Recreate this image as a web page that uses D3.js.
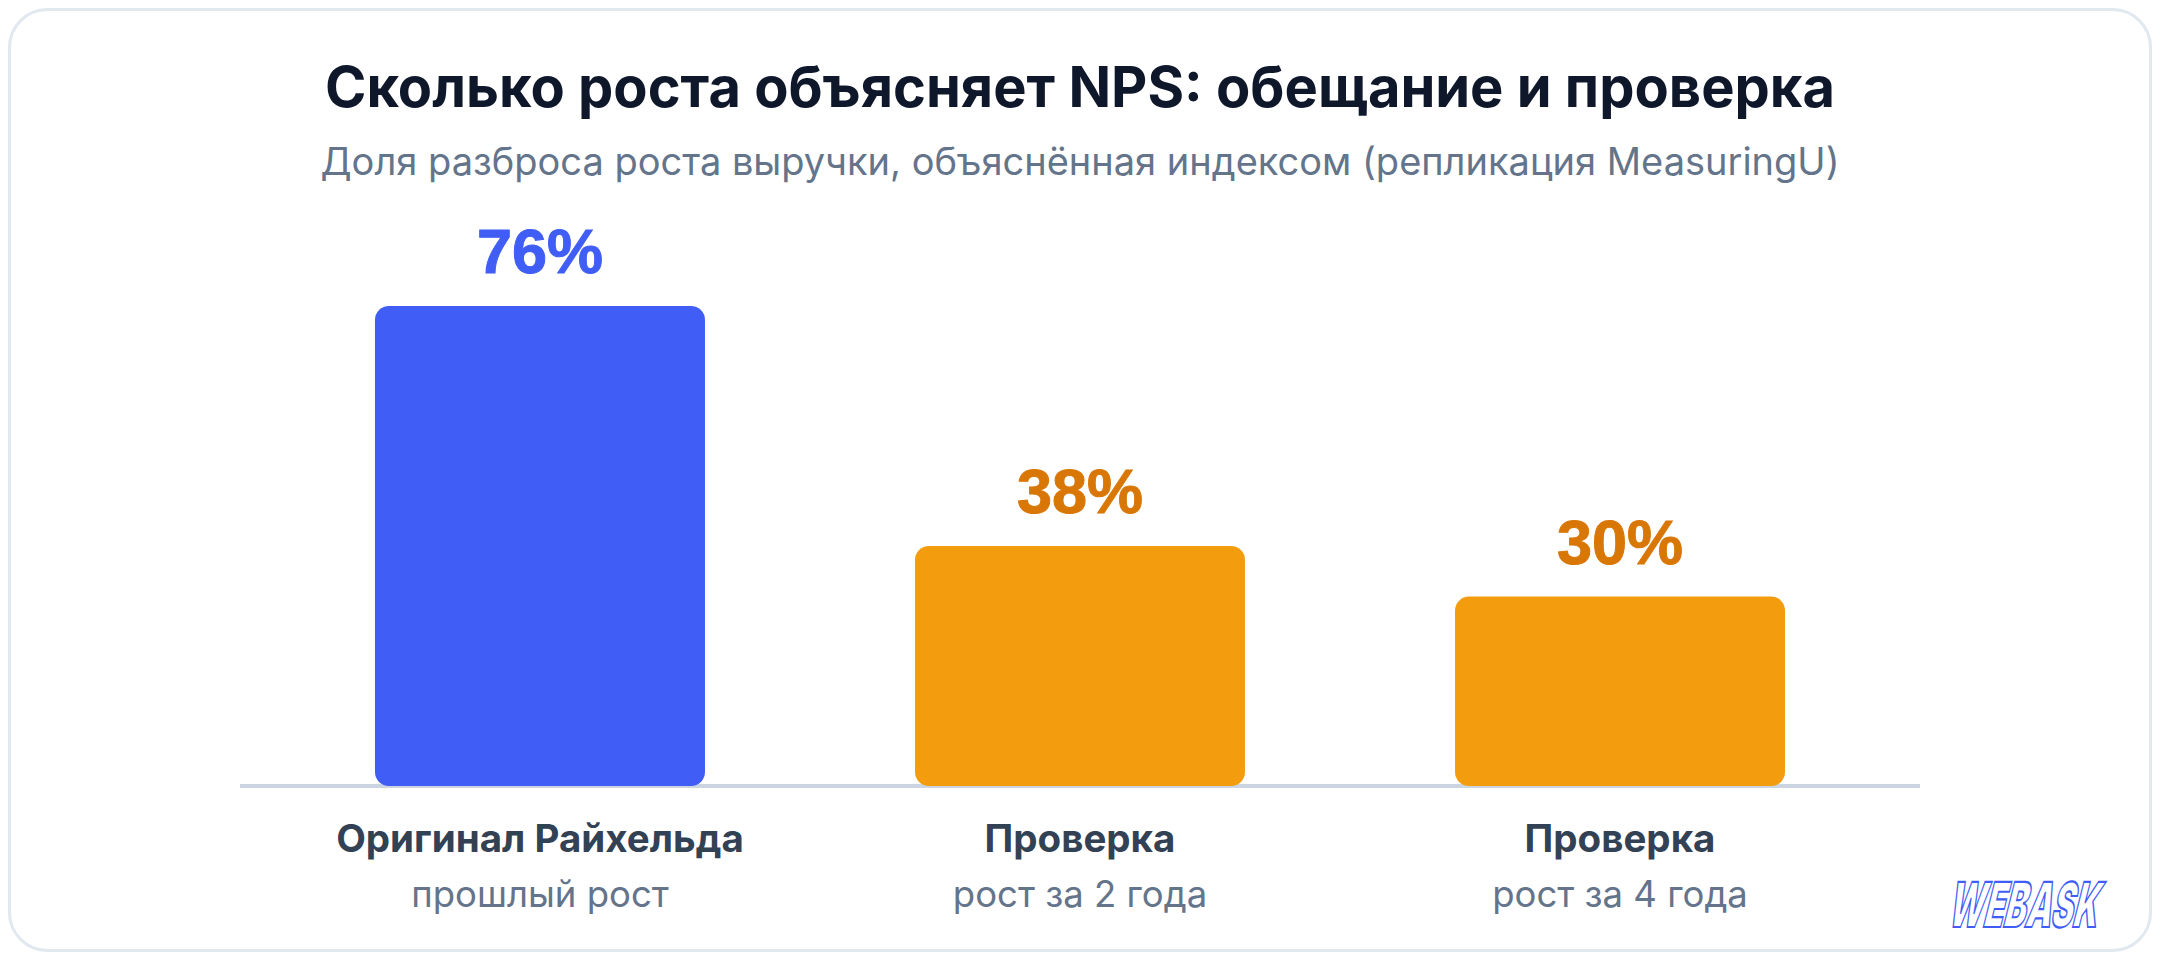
<!DOCTYPE html>
<html>
<head>
<meta charset="utf-8">
<script src="https://cdn.jsdelivr.net/npm/d3@7"></script>
<style>
  body { margin: 0; background: #ffffff; }
  svg { display: block; font-family: Inter, "Noto Sans", sans-serif; }
</style>
</head>
<body>
<div id="wrapper"></div>
<script>
// data
const categories = ["Оригинал Райхельда", "Проверка", "Проверка"]
const subLabels = ["прошлый рост", "рост за 2 года", "рост за 4 года"]
const values = [76, 38, 30]
const kinds = ["original", "check", "check"]

const titleText = "Сколько роста объясняет NPS: обещание и проверка"
const subtitleText = "Доля разброса роста выручки, объяснённая индексом (репликация MeasuringU)"

const colors = {
  original: { bar: "#405ef5", label: "#405ef5" },
  check: { bar: "#f39c0e", label: "#d97706" },
}

// dimensions
const dimensions = {
  width: 2160,
  height: 960,
  baseline: 786,
  plotTop: 306,
  bandLeft: 270,
  bandRight: 1890,
}

const svg = d3.select("#wrapper")
  .append("svg")
    .attr("width", dimensions.width)
    .attr("height", dimensions.height)

// card
svg.append("rect")
    .attr("x", 9.5)
    .attr("y", 9.5)
    .attr("width", dimensions.width - 19)
    .attr("height", dimensions.height - 19)
    .attr("rx", 38)
    .attr("fill", "#ffffff")
    .attr("stroke", "#e2e8f0")
    .attr("stroke-width", 3)

// title
svg.append("text")
    .attr("x", dimensions.width / 2)
    .attr("y", 107)
    .attr("text-anchor", "middle")
    .attr("font-size", 56)
    .attr("font-weight", 700)
    .attr("fill", "#0f172a")
    .text(titleText)

svg.append("text")
    .attr("x", dimensions.width / 2)
    .attr("y", 175)
    .attr("text-anchor", "middle")
    .attr("font-size", 38)
    .attr("fill", "#64748b")
    .text(subtitleText)

// scales
const xScale = d3.scaleBand()
  .domain(d3.range(values.length))
  .range([dimensions.bandLeft, dimensions.bandRight])
  .paddingInner(0.3889)
  .paddingOuter(0.1944)

const yScale = d3.scaleLinear()
  .domain([0, d3.max(values)])
  .range([dimensions.baseline, dimensions.plotTop])

// axis line
svg.append("line")
    .attr("x1", 240)
    .attr("x2", 1920)
    .attr("y1", dimensions.baseline)
    .attr("y2", dimensions.baseline)
    .attr("stroke", "#cbd5e1")
    .attr("stroke-width", 4)

// bars
svg.selectAll(".bar")
    .data(values)
  .enter().append("rect")
    .attr("class", "bar")
    .attr("x", (d, i) => xScale(i))
    .attr("y", d => yScale(d))
    .attr("width", xScale.bandwidth())
    .attr("height", d => yScale(0) - yScale(d))
    .attr("rx", 14)
    .attr("fill", (d, i) => colors[kinds[i]].bar)

// value labels
svg.selectAll(".value-label")
    .data(values)
  .enter().append("text")
    .attr("class", "value-label")
    .attr("x", (d, i) => xScale(i) + xScale.bandwidth() / 2)
    .attr("y", d => yScale(d) - 33)
    .attr("text-anchor", "middle")
    .attr("font-family", "'Liberation Sans', Arial, sans-serif")
    .attr("font-size", 63)
    .attr("font-weight", 700)
    .attr("fill", (d, i) => colors[kinds[i]].label)
    .attr("stroke", (d, i) => colors[kinds[i]].label)
    .attr("stroke-width", 1)
    .text(d => `${d}%`)

// category labels
svg.selectAll(".cat-label")
    .data(categories)
  .enter().append("text")
    .attr("class", "cat-label")
    .attr("x", (d, i) => xScale(i) + xScale.bandwidth() / 2)
    .attr("y", 852)
    .attr("text-anchor", "middle")
    .attr("font-size", 38.5)
    .attr("font-weight", 700)
    .attr("fill", "#334155")
    .text(d => d)

svg.selectAll(".sub-label")
    .data(subLabels)
  .enter().append("text")
    .attr("class", "sub-label")
    .attr("x", (d, i) => xScale(i) + xScale.bandwidth() / 2)
    .attr("y", 907)
    .attr("text-anchor", "middle")
    .attr("font-size", 36.5)
    .attr("fill", "#64748b")
    .text(d => d)

// logo
svg.append("g")
    .attr("transform", "translate(1946, 927) skewX(-14) scale(1, 1.55)")
  .append("text")
    .attr("x", 0)
    .attr("y", 0)
    .attr("textLength", 150)
    .attr("lengthAdjust", "spacingAndGlyphs")
    .attr("font-size", 40)
    .attr("font-weight", 900)
    .attr("fill", "#ffffff")
    .attr("stroke", "#405ef5")
    .attr("stroke-width", 1.4)
    .text("WEBASK")
</script>
</body>
</html>
